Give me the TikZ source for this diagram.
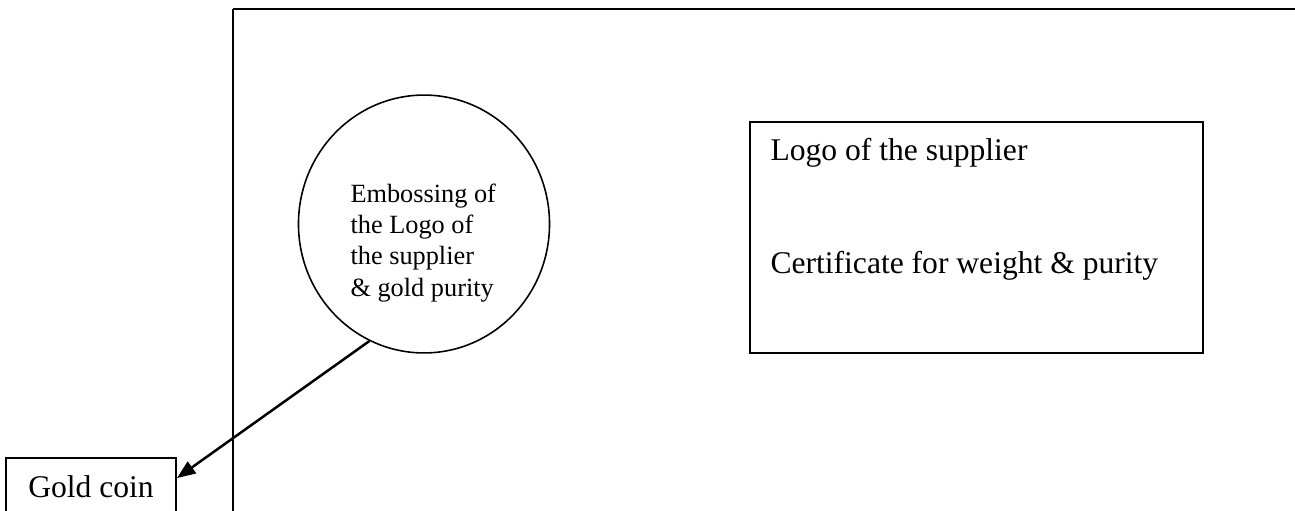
\documentclass[tikz,border=0pt]{standalone}
\usepackage{fontspec}
\setmainfont{Liberation Serif}
\usetikzlibrary{arrows.meta,shapes.geometric}

\begin{document}
\begin{tikzpicture}[x=0.38pt,y=-0.38pt,
    bigtext/.style={font=\fontsize{12}{14}\selectfont},
    smalltext/.style={font=\fontsize{10}{11.8}\selectfont},
    pointer/.style={line width=0.95pt,-{Triangle[length=7pt,width=5.4pt]}}]
\useasboundingbox (0,0) rectangle (1295,510);
\clip (0,0) rectangle (1295,510);
% outline of the packing
\draw[line width=0.75pt] (233,530) -- (233,9);
\draw[line width=1.1pt] (232.6,9) -- (1310,9);
% coin and embossing
\node[draw,line width=0.75pt,anchor=north west,bigtext,minimum width=64.6pt,
      text height=8.2pt,text depth=25pt,inner ysep=7pt] (coin) at (5,457) {Gold coin};
\node[draw,ellipse,line width=0.6pt,minimum width=95.4pt,minimum height=98pt] (emboss) at (424,224) {};
\node[smalltext,align=left,anchor=base west,inner sep=0pt] (embosstext) at (350,296)
    {Embossing of\\the Logo of\\the supplier\\\& gold purity};
\draw[pointer] (emboss.245) -- ([yshift=-8pt]coin.north east);
% certificate
\node[draw,line width=0.75pt,anchor=north west,minimum width=172.1pt,minimum height=87.8pt,inner sep=0pt] (cert) at (749,121) {};
\node[bigtext,anchor=base west,inner sep=0pt] (logo) at (770,160) {Logo of the supplier};
\node[bigtext,anchor=base west,inner sep=0pt] (certtext) at (770,273) {Certificate for weight \& purity};
\end{tikzpicture}
\end{document}
